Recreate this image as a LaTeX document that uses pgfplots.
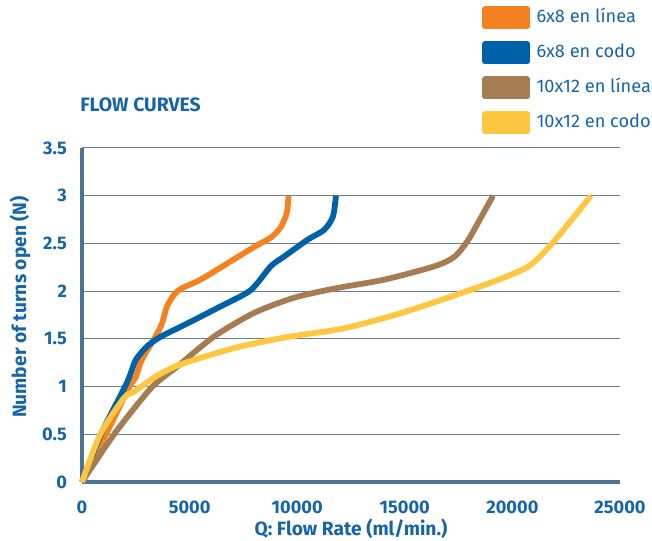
\documentclass[border=0pt]{standalone}
\usepackage{pgfplots}
\pgfplotsset{compat=1.18}
\usepackage{fontspec}
\setmainfont{Fira Sans}
\definecolor{cOrange}{HTML}{F58220}
\definecolor{cBlue}{HTML}{0060A8}
\definecolor{cBrown}{HTML}{A67C52}
\definecolor{cYellow}{HTML}{FDC741}
\definecolor{txtblue}{HTML}{1765A8}
\definecolor{axisc}{HTML}{4D7491}
\definecolor{gridc}{HTML}{5F819B}
\begin{document}
\begin{tikzpicture}
\path[use as bounding box] (-41pt,-29pt) rectangle (285pt,241pt);
\begin{axis}[
  scale only axis, width=269pt, height=167pt,
  xmin=0, xmax=25000, ymin=0, ymax=3.5,
  xtick={0,5000,10000,15000,20000,25000},
  ytick={0,0.5,1,1.5,2,2.5,3,3.5},
  scaled x ticks=false,
  /pgf/number format/1000 sep={},
  /pgf/number format/assume math mode=true,
  major tick length=0pt,
  ymajorgrids, grid style={line width=0.5pt, gridc},
  axis x line*=bottom, axis y line*=left,
  axis line style={line width=1.6pt, axisc, -},
  ticklabel style={font=\bfseries\fontsize{9.1}{11}\selectfont, text=txtblue},
  xticklabel style={yshift=-6pt},
  yticklabel style={xshift=-4pt},
  xlabel={Q: Flow Rate (ml/min.)},
  ylabel={Number of turns open (N)},
  label style={font=\bfseries\fontsize{9.6}{11}\selectfont, text=txtblue},
  xlabel style={yshift=4.5pt},
  ylabel style={yshift=-1pt, xshift=4pt},
  clip=false,
  legend style={at={(rel axis cs:0.7435,1.425)}, anchor=north west,
    draw=none, fill=none, inner sep=0pt, row sep=6pt,
    font=\fontsize{9.1}{11}\selectfont, text=txtblue,
    nodes={inner sep=0pt, text height=6.6pt, text depth=1.9pt},
    /tikz/every odd column/.append style={column sep=3.2pt},
    cells={anchor=west}},
  legend image code/.code={\fill (0pt,-4.3pt) rectangle (21pt,4.3pt);},
  every axis plot/.append style={line width=2.9pt, smooth, tension=0.45, line cap=butt, line join=round},
]
\addplot[color=cOrange] coordinates {(0,0) (435,0.23) (1135,0.51) (2177,0.985) (2500,1.1) (2780,1.28) (3405,1.52) (3716,1.66) (3949,1.84) (4338,1.98) (4726,2.04) (5582,2.13) (7976,2.46) (8769,2.56) (9235,2.67) (9515,2.82) (9600,3.0)};
\addlegendentry{6x8 en línea}
\addplot[color=cBlue] coordinates {(0,0) (900,0.51) (1912,0.96) (2200,1.1) (2500,1.28) (3016,1.42) (3638,1.52) (4882,1.66) (6436,1.84) (7836,2.01) (8769,2.26) (9375,2.36) (10494,2.54) (11240,2.64) (11660,2.78) (11800,3.0)};
\addlegendentry{6x8 en codo}
\addplot[color=cBrown] coordinates {(0,0) (1524,0.51) (3234,0.99) (4431,1.21) (6110,1.52) (7976,1.77) (9841,1.93) (11800,2.03) (14039,2.12) (16371,2.26) (17304,2.36) (17957,2.54) (18657,2.82) (19100,3.0)};
\addlegendentry{10x12 en línea}
\addplot[color=cYellow] coordinates {(0,0) (850,0.5) (1950,0.88) (2450,0.95) (3390,1.10) (4323,1.21) (5644,1.31) (7370,1.42) (9562,1.52) (12173,1.61) (14832,1.77) (17631,1.98) (19356,2.12) (20755,2.26) (21688,2.46) (22761,2.75) (23650,3.0)};
\addlegendentry{10x12 en codo}
\node[anchor=west, font=\bfseries\fontsize{9.7}{11}\selectfont, text=txtblue, inner sep=0pt] at (rel axis cs:-0.004,1.13) {FLOW CURVES};
\end{axis}
\end{tikzpicture}
\end{document}
